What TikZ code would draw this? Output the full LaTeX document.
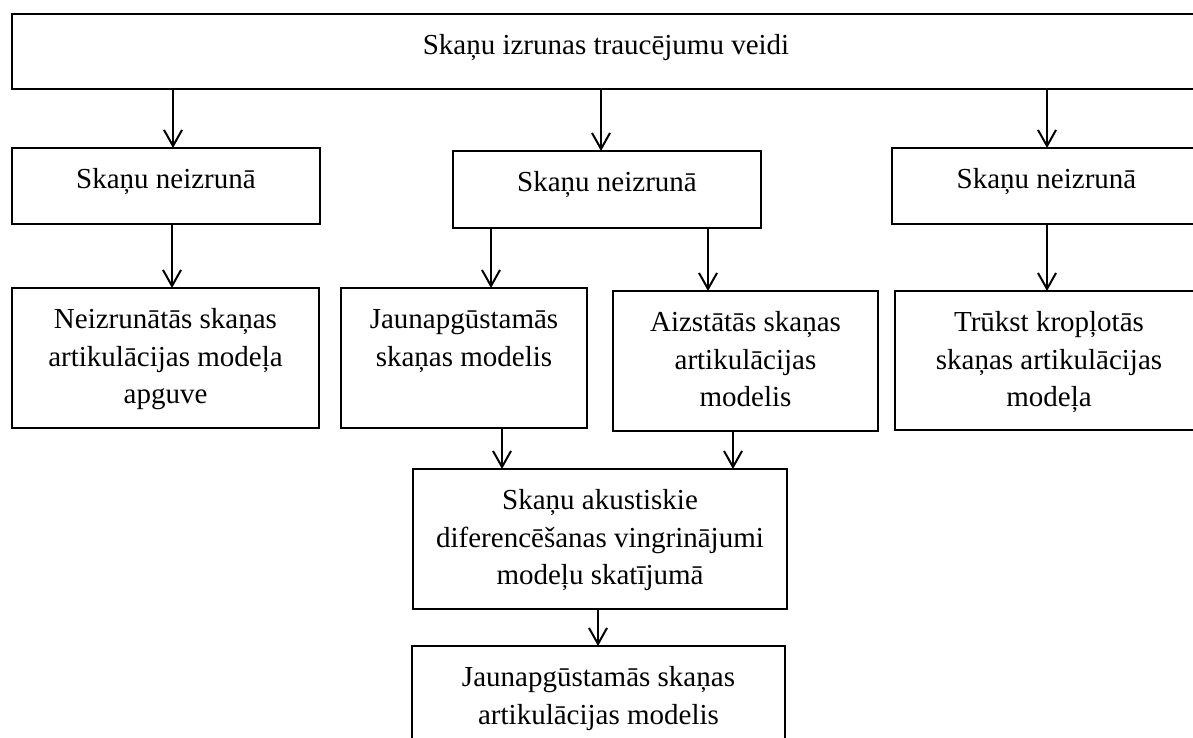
\documentclass[tikz,border=0pt]{standalone}
\usepackage{fontspec}
\setmainfont{Liberation Serif}
\usetikzlibrary{arrows.meta}
\newcommand{\bxt}[3]{\parbox[t][#2][t]{#1}{\centering\rule{0pt}{40.5pt}#3}}
\begin{document}
\begin{tikzpicture}[x=1pt,y=-1pt,
  box/.style={draw, line width=2.6pt, inner sep=0pt, outer sep=0pt, anchor=north west,
              font=\fontsize{29}{37.5}\selectfont},
  arr/.style={line width=2pt, -{Straight Barb[length=16pt,width=18pt]}}]
\useasboundingbox (0,0) rectangle (1193,738);
% boxes
\node[box] (T) at (12,14)  {\bxt{1188pt}{75pt}{Skaņu izrunas traucējumu veidi}};
\node[box] (A) at (12,148) {\bxt{308pt}{76pt}{Skaņu neizrunā}};
\node[box] (B) at (453,151){\bxt{308pt}{77pt}{Skaņu neizrunā}};
\node[box] (C) at (892,148){\bxt{309pt}{76pt}{Skaņu neizrunā}};
\node[box] (D) at (12,288) {\bxt{307pt}{140pt}{Neizrunātās skaņas\\artikulācijas modeļa\\apguve}};
\node[box] (E) at (341,288){\bxt{246pt}{140pt}{Jaunapgūstamās\\skaņas modelis}};
\node[box] (F) at (613,291){\bxt{265pt}{140pt}{Aizstātās skaņas\\artikulācijas\\modelis}};
\node[box] (G) at (895,291){\bxt{308pt}{139pt}{Trūkst kropļotās\\skaņas artikulācijas\\modeļa}};
\node[box] (H) at (413,469){\bxt{374pt}{140pt}{Skaņu akustiskie\\diferencēšanas vingrinājumi\\modeļu skatījumā}};
\node[box] (I) at (412,646){\bxt{373pt}{100pt}{Jaunapgūstamās skaņas\\artikulācijas modelis}};
% arrow columns
\coordinate (x1) at (173,0);
\coordinate (x2) at (601,0);
\coordinate (x3) at (1047,0);
\coordinate (x4) at (172,0);
\coordinate (x5) at (491,0);
\coordinate (x6) at (708,0);
\coordinate (x7) at (502,0);
\coordinate (x8) at (733,0);
\coordinate (x9) at (598,0);
% connectors
\draw[arr] (T.south -| x1) -- (A.north -| x1);
\draw[arr] (T.south -| x2) -- (B.north -| x2);
\draw[arr] (T.south -| x3) -- (C.north -| x3);
\draw[arr] (A.south -| x4) -- (D.north -| x4);
\draw[arr] (B.south -| x5) -- (E.north -| x5);
\draw[arr] (B.south -| x6) -- (F.north -| x6);
\draw[arr] (C.south -| x3) -- (G.north -| x3);
\draw[arr] (E.south -| x7) -- (H.north -| x7);
\draw[arr] (F.south -| x8) -- (H.north -| x8);
\draw[arr] (H.south -| x9) -- (I.north -| x9);
\end{tikzpicture}
\end{document}
